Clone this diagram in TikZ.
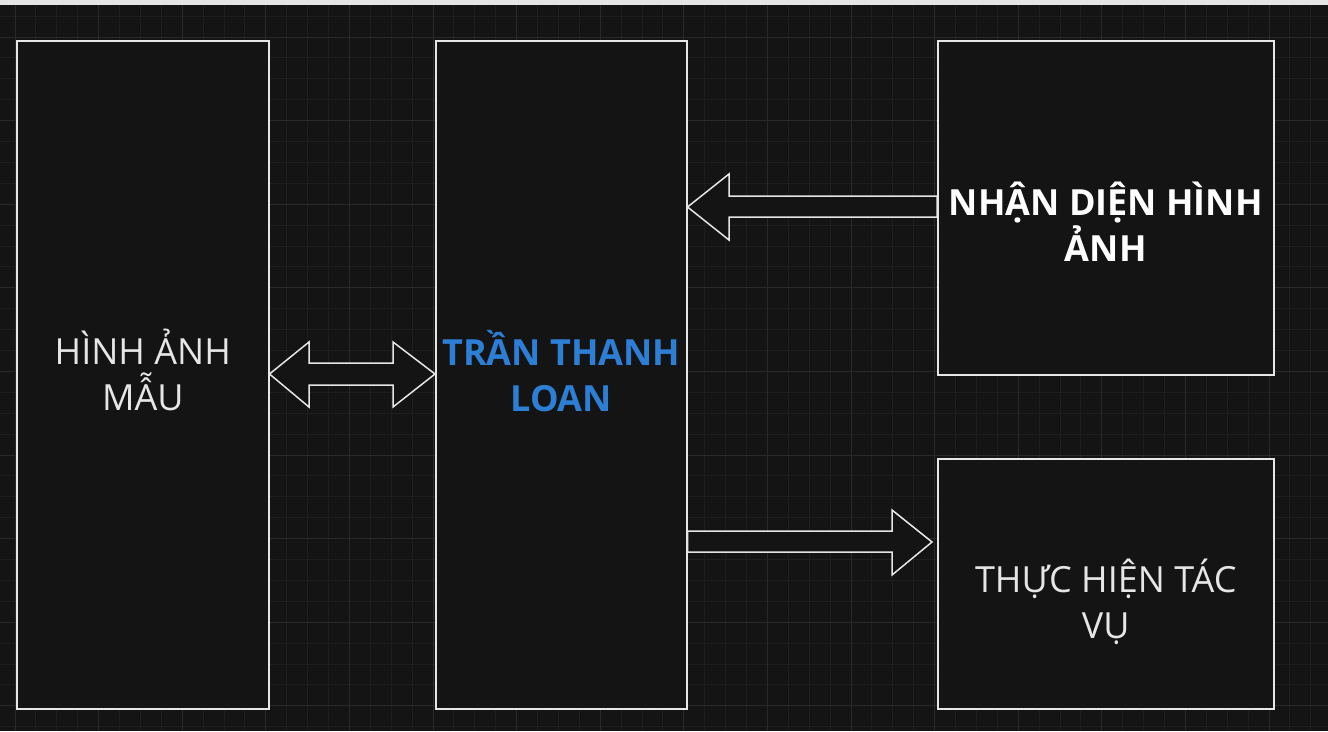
\documentclass[tikz,border=0pt]{standalone}
\usepackage{fontspec}
\setmainfont{Open Sans}
\definecolor{bg}{HTML}{141414}
\definecolor{gmin}{HTML}{1E1E1E}
\definecolor{gmaj}{HTML}{2A2A2A}
\definecolor{edge}{HTML}{E6E6E6}
\definecolor{blu}{HTML}{2D7FD6}
\begin{document}
\begin{tikzpicture}[x=1pt,y=-1pt,
  blk/.style={draw=edge,line width=1.5pt,fill=bg,anchor=north west,inner sep=0pt},
  arr/.style={draw=edge,line width=1.5pt,fill=bg,line join=miter},
  lbl/.style={text=edge,font=\fontsize{36}{46}\selectfont,align=center},
  lblb/.style={lbl,font=\fontsize{36}{46}\selectfont\bfseries}]
\useasboundingbox (0,0) rectangle (1328,731);
\fill[bg] (0,0) rectangle (1328,731);
\fill[white!90!black] (0,0) rectangle (1328,5);
\foreach \i in {0,...,64} {\draw[gmin,line width=0.8pt] ({-6+20.9*\i},5) -- ({-6+20.9*\i},731);}
\foreach \i in {0,...,36} {\draw[gmin,line width=0.8pt] (0,{16+20.9*\i}) -- (1328,{16+20.9*\i});}
\foreach \i in {0,...,16} {\draw[gmaj,line width=1pt] ({15+83.6*\i},5) -- ({15+83.6*\i},731);}
\foreach \i in {0,...,9} {\draw[gmaj,line width=1pt] (0,{37+83.6*\i}) -- (1328,{37+83.6*\i});}
\node[blk,minimum width=252pt,minimum height=668pt] (a) at (16,40) {};
\node[blk,minimum width=251pt,minimum height=668pt] (b) at (435,40) {};
\node[blk,minimum width=336pt,minimum height=334pt] (c) at (937,40) {};
\node[blk,minimum width=336pt,minimum height=250pt] (d) at (937,458) {};
\node[lbl] at ([yshift=5pt]a.center) {HÌNH ẢNH\\MẪU};
\node[lblb,text=blu] at ([yshift=4pt]b.center) {TRẦN THANH\\LOAN};
\node[lblb,text=white] at ([yshift=-14pt]c.center) {NHẬN DIỆN HÌNH\\ẢNH};
\node[lbl] at ([yshift=-18pt]d.center) {THỰC HIỆN TÁC\\VỤ};
% double arrow
\draw[arr] (a.east |- 0,374) -- (309,342) -- (309,363) -- (393,363) -- (393,342) -- (b.west |- 0,374) -- (393,407) -- (393,385) -- (309,385) -- (309,407) -- cycle;
% left arrow
\draw[arr] (b.east |- 0,207) -- (729,174) -- (729,196) -- (c.west |- 0,196) -- (c.west |- 0,217) -- (729,217) -- (729,240) -- cycle;
% right arrow
\draw[arr] (b.east |- 0,531) -- (892,531) -- (892,510) -- (932,542) -- (892,575) -- (892,552) -- (b.east |- 0,552) -- cycle;
\end{tikzpicture}
\end{document}
